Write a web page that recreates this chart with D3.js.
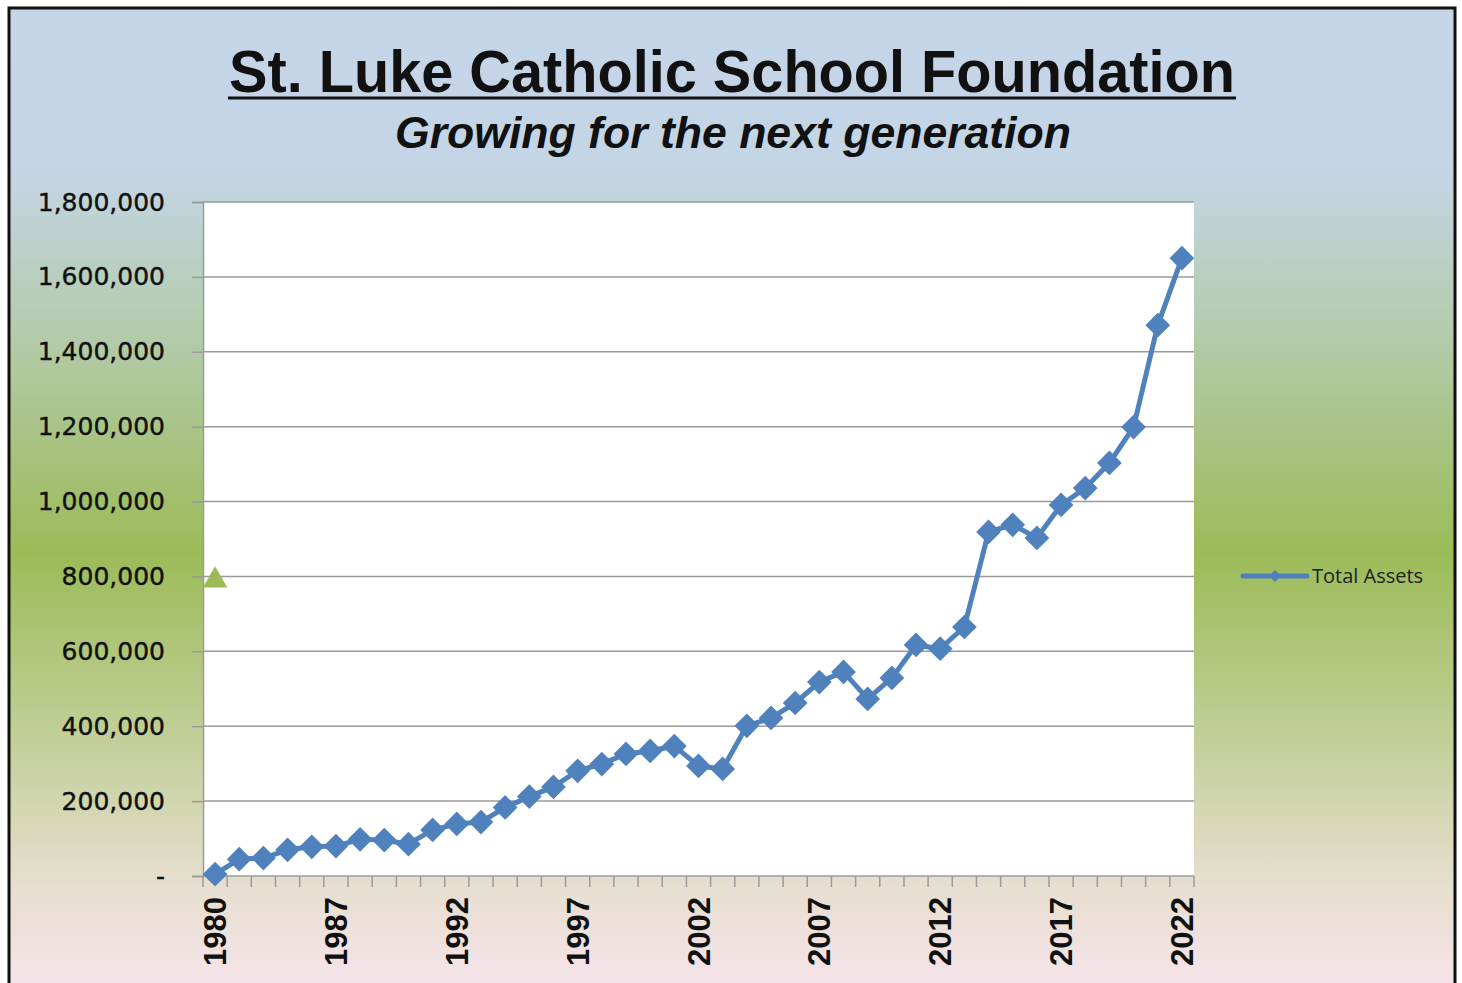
<!DOCTYPE html>
<html>
<head>
<meta charset="utf-8">
<script src="https://cdn.jsdelivr.net/npm/d3@7"></script>
<style>
  html, body { margin: 0; padding: 0; background: #ffffff; }
  svg { display: block; }
</style>
</head>
<body>
<svg id="chart" width="1462" height="983"></svg>
<script>
// Years on the category axis (only every 5th one is labelled).
const years = ["1980", "1983", "1984", "1985", "1986",
  "1987", "1988", "1989", "1990", "1991", "1992", "1993", "1994", "1995", "1996",
  "1997", "1998", "1999", "2000", "2001", "2002", "2003", "2004", "2005", "2006",
  "2007", "2008", "2009", "2010", "2011", "2012", "2013", "2014", "2015", "2016",
  "2017", "2018", "2019", "2020", "2021", "2022"];

// Total assets.
const totalAssets = [5000, 45000, 48000, 70000, 78000,
  80000, 98000, 96000, 85000, 123000, 139000, 144000, 183000, 212000, 238000,
  281000, 299000, 326000, 334000, 347000, 294000, 286000, 401000, 422000, 462000,
  518000, 545000, 473000, 529000, 617000, 607000, 665000, 919000, 938000, 903000,
  991000, 1036000, 1103000, 1199000, 1471000, 1650000];

// Lone green marker drawn at the first year.
const markerYears = ["1980"];
const markerValues = [800000];

const yTicks = [0, 200000, 400000, 600000, 800000, 1000000, 1200000, 1400000, 1600000, 1800000];
const labelledYears = ["1980", "1987", "1992", "1997", "2002", "2007", "2012", "2017", "2022"];

const svg = d3.select("#chart");

// Background gradient.
const defs = svg.append("defs");
const grad = defs.append("linearGradient")
  .attr("id", "bg").attr("x1", 0).attr("y1", 0).attr("x2", 0).attr("y2", 1);
grad.append("stop").attr("offset", "0%").attr("stop-color", "#c6d5e9");
grad.append("stop").attr("offset", "16%").attr("stop-color", "#c4d5e6");
grad.append("stop").attr("offset", "30%").attr("stop-color", "#b6cdb6");
grad.append("stop").attr("offset", "55%").attr("stop-color", "#9cbb58");
grad.append("stop").attr("offset", "75%").attr("stop-color", "#c5d09c");
grad.append("stop").attr("offset", "89%").attr("stop-color", "#e7dfd0");
grad.append("stop").attr("offset", "100%").attr("stop-color", "#f8e4ee");

svg.append("rect")
  .attr("x", 9).attr("y", 8)
  .attr("width", 1446).attr("height", 990)
  .attr("fill", "url(#bg)")
  .attr("stroke", "#111").attr("stroke-width", 3);

// Titles.
svg.append("text")
  .attr("x", 732).attr("y", 92)
  .attr("text-anchor", "middle")
  .attr("font-family", "Liberation Sans, Arial, sans-serif")
  .attr("font-weight", "bold")
  .attr("font-size", 59)
  .attr("textLength", 1006)
  .attr("lengthAdjust", "spacingAndGlyphs")
  .attr("fill", "#111")
  .text("St. Luke Catholic School Foundation");

svg.append("line")
  .attr("x1", 228).attr("x2", 1236)
  .attr("y1", 98).attr("y2", 98)
  .attr("stroke", "#111").attr("stroke-width", 3);

svg.append("text")
  .attr("x", 733).attr("y", 148)
  .attr("text-anchor", "middle")
  .attr("font-family", "Liberation Sans, Arial, sans-serif")
  .attr("font-weight", "bold")
  .attr("font-style", "italic")
  .attr("font-size", 45)
  .attr("textLength", 676)
  .attr("lengthAdjust", "spacingAndGlyphs")
  .attr("fill", "#111")
  .text("Growing for the next generation");

// Plot area.
const plot = { left: 203, right: 1194, top: 202, bottom: 876 };

const x = d3.scaleBand()
  .domain(years)
  .range([plot.left, plot.right])
  .padding(0);

const y = d3.scaleLinear()
  .domain([0, 1800000])
  .range([plot.bottom, plot.top]);

svg.append("rect")
  .attr("x", plot.left).attr("y", plot.top)
  .attr("width", plot.right - plot.left)
  .attr("height", plot.bottom - plot.top)
  .attr("fill", "#ffffff");

// Gridlines.
svg.append("g")
  .selectAll("line")
  .data(yTicks.filter(d => d > 0))
  .join("line")
  .attr("x1", plot.left).attr("x2", plot.right)
  .attr("y1", d => y(d)).attr("y2", d => y(d))
  .attr("stroke", "#9a9a9a").attr("stroke-width", 1.5);

// Y axis.
const fmt = d3.format(",");
const yAxis = svg.append("g")
  .attr("transform", `translate(${plot.left},0)`)
  .call(d3.axisLeft(y)
    .tickValues(yTicks)
    .tickSize(11)
    .tickPadding(27)
    .tickFormat(d => d === 0 ? "-" : fmt(d)));
yAxis.select(".domain").attr("stroke", "#9a9a9a").attr("stroke-width", 1.5);
yAxis.selectAll(".tick line").attr("stroke", "#9a9a9a").attr("stroke-width", 1.5);
yAxis.selectAll(".tick text")
  .attr("font-family", "DejaVu Sans, Verdana, sans-serif")
  .attr("font-size", 25)
  .attr("stroke", "#111").attr("stroke-width", 0.4)
  .attr("fill", "#111");

// X axis: ticks between the categories, labels every 5th year.
const xAxis = svg.append("g")
  .attr("transform", `translate(0,${plot.bottom})`);
xAxis.append("line")
  .attr("x1", plot.left).attr("x2", plot.right)
  .attr("y1", 0).attr("y2", 0)
  .attr("stroke", "#9a9a9a").attr("stroke-width", 1.5);
xAxis.selectAll("line.tick")
  .data(years.concat(["end"]))
  .join("line")
  .attr("class", "tick")
  .attr("x1", (d, i) => i < years.length ? x(d) : plot.right)
  .attr("x2", (d, i) => i < years.length ? x(d) : plot.right)
  .attr("y1", 0).attr("y2", 11)
  .attr("stroke", "#9a9a9a").attr("stroke-width", 1.5);
xAxis.selectAll("text")
  .data(labelledYears)
  .join("text")
  .attr("transform", d => `translate(${x(d) + x.bandwidth() / 2 + 11},21) rotate(-90)`)
  .attr("text-anchor", "end")
  .attr("font-family", "Liberation Sans, Arial, sans-serif")
  .attr("font-weight", "bold")
  .attr("font-size", 31)
  .attr("fill", "#111")
  .text(d => d);

// Series line and diamonds.
const cx = d => x(d) + x.bandwidth() / 2;
const pts = years.map((yr, i) => ({ yr: yr, v: totalAssets[i] }));
const blue = "#4f81bd";

svg.append("path")
  .datum(pts)
  .attr("fill", "none")
  .attr("stroke", blue)
  .attr("stroke-width", 5)
  .attr("stroke-linejoin", "round")
  .attr("d", d3.line().x(d => cx(d.yr)).y(d => y(d.v)));

const diamond = d3.symbol().type(d3.symbolDiamond2).size(390);
svg.append("g")
  .selectAll("path")
  .data(pts)
  .join("path")
  .attr("transform", d => `translate(${cx(d.yr)},${y(d.v)})`)
  .attr("d", diamond)
  .attr("fill", blue);

// Green triangle marker.
const tri = d3.symbol().type(d3.symbolTriangle).size(260);
svg.append("g")
  .selectAll("path")
  .data(markerYears.map((yr, i) => ({ yr: yr, v: markerValues[i] })))
  .join("path")
  .attr("transform", d => `translate(${cx(d.yr)},${y(d.v) + 4})`)
  .attr("d", tri)
  .attr("fill", "#9bbb59");

// Legend.
const legend = svg.append("g").attr("transform", "translate(1243,576)");
legend.append("line")
  .attr("x1", 0).attr("x2", 64)
  .attr("stroke", blue).attr("stroke-width", 5).attr("stroke-linecap", "round");
legend.append("path")
  .attr("transform", "translate(32,0)")
  .attr("d", d3.symbol().type(d3.symbolDiamond2).size(90))
  .attr("fill", blue);
legend.append("text")
  .attr("x", 69).attr("y", 7)
  .attr("font-family", "Open Sans, DejaVu Sans, sans-serif")
  .attr("font-size", 20)
  .attr("fill", "#222")
  .text("Total Assets");
</script>
</body>
</html>
